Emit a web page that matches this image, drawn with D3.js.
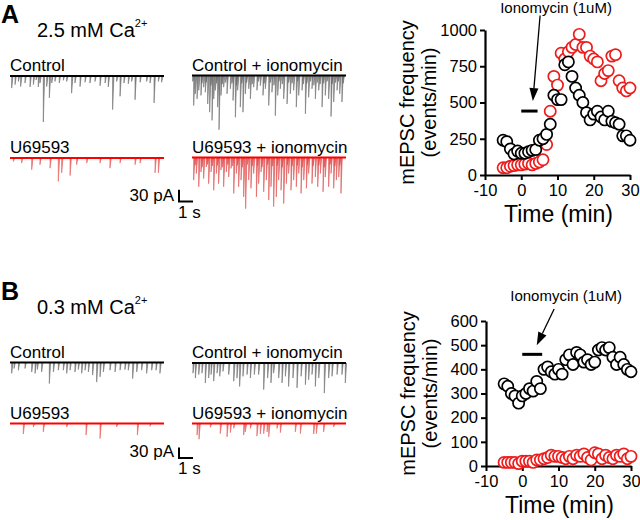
<!DOCTYPE html>
<html><head><meta charset="utf-8">
<script src="https://cdn.jsdelivr.net/npm/d3@7"></script>
<style>body{margin:0;background:#fff}svg{display:block;font-family:"Liberation Sans",Arial,sans-serif}</style>
</head><body><svg id="c" width="640" height="520"></svg>
<script>
// ---------- time-course data (minutes, events/min) ----------
const timeMin = [-5,-4,-3,-2,-1,0,1,2,3,4,5,6,7,8,9,10,11,12,13,14,15,16,17,18,19,20,21,22,23,24,25,26,27,28,29,30];
const freqA_control = [240,230,180,145,165,150,150,160,170,175,240,250,280,350,550,520,520,760,780,680,600,550,500,430,380,420,440,400,380,440,370,360,350,270,270,240];
const freqA_u69593  = [50,50,60,65,70,70,75,80,70,80,90,105,210,440,680,620,840,800,850,880,900,970,880,880,820,800,780,650,700,720,820,830,650,600,580,600];
const freqB_control = [340,330,300,290,260,290,300,320,310,350,320,400,410,390,380,400,380,440,460,420,470,460,430,440,420,430,480,490,480,490,450,420,450,420,400,390];
const freqB_u69593  = [15,15,15,15,10,20,20,20,15,25,25,30,35,45,40,40,35,30,40,30,45,40,50,35,25,55,50,30,45,35,30,45,40,50,30,40];
const xTicks = [-10,0,10,20,30];
const yTicksA = [0,250,500,750,1000];
const yTicksB = [0,100,200,300,400,500,600];
const ionoLabel = "Ionomycin (1uM)";
// annotation anchors in data units [min, events/min]
const barA = [0,4.5,441], arrowA = [[5.2,1100],[3.2,510]], labelA = [9.6,1117];
const barB = [0,5.5,462], arrowB = [[8.8,650],[4.0,500]], labelB = [12.1,683];

// ---------- trace events: [time (s), amplitude (pA)] ----------
const evA_control = [[0.12,31],[0.36,22],[0.6,14],[0.76,27],[1.07,18],[1.43,28],[1.67,22],[1.86,10],[2.02,28],[2.14,18],[2.38,118],[2.62,27],[2.81,56],[2.98,18],[3.21,14],[3.52,18],[3.81,11],[4.05,14],[4.4,44],[4.64,18],[5.0,27],[5.36,16],[5.71,18],[6.07,14],[6.43,25],[6.79,18],[7.02,28],[7.33,86],[7.62,14],[7.86,52],[8.14,18],[8.45,20],[8.69,14],[8.93,61],[9.29,16],[9.76,14],[10.0,18],[10.29,69],[10.6,14],[10.83,16]];
const evA_u69593 = [[0.24,9],[0.83,13],[1.55,30],[2.14,17],[2.86,26],[3.45,60],[3.69,38],[4.29,45],[4.76,17],[5.48,13],[6.43,13],[7.14,26],[7.86,13],[8.93,17],[9.29,13],[10.36,38],[10.6,38]];
const evA_controlIono = [[0.12,77],[0.24,47],[0.36,60],[0.48,38],[0.64,51],[0.83,30],[0.95,43],[1.12,73],[1.26,94],[1.43,115],[1.55,60],[1.67,38],[1.83,81],[1.93,139],[2.07,51],[2.26,30],[2.5,47],[2.74,34],[2.93,64],[3.10,107],[3.26,38],[3.45,81],[3.64,94],[3.81,47],[4.05,34],[4.17,60],[4.40,30],[4.64,38],[4.88,26],[5.07,51],[5.24,34],[5.48,77],[5.71,43],[5.95,103],[6.12,51],[6.31,34],[6.55,60],[6.79,73],[7.02,47],[7.26,38],[7.45,81],[7.62,51],[7.86,38],[8.10,98],[8.33,56],[8.57,34],[8.81,60],[9.05,38],[9.29,81],[9.52,51],[9.76,60],[9.93,105],[10.12,68],[10.36,38],[10.55,47],[10.71,68],
  [0.05,15],[0.7,20],[1.0,18],[1.35,25],[1.75,20],[2.15,22],[2.4,18],[2.85,20],[3.18,25],[3.55,20],[3.9,18],[4.3,22],[4.75,15],[5.15,20],[5.6,18],[5.85,25],[6.2,15],[6.45,22],[6.9,18],[7.15,20],[7.55,15],[7.95,22],[8.2,20],[8.45,15],[8.7,25],[8.95,18],[9.15,22],[9.4,20],[9.65,15],[10.0,22],[10.25,18],[10.45,15],[10.8,20]];
const evA_u69593Iono = [[0.12,58],[0.31,41],[0.48,75],[0.64,37],[0.83,54],[1.02,24],[1.19,67],[1.36,37],[1.55,84],[1.74,41],[1.90,67],[2.07,32],[2.26,75],[2.45,37],[2.62,50],[2.79,28],[2.98,92],[3.17,41],[3.33,75],[3.50,58],[3.69,101],[3.83,131],[4.05,58],[4.21,79],[4.40,41],[4.60,101],[4.76,67],[4.93,37],[5.12,88],[5.31,58],[5.48,109],[5.64,75],[5.83,126],[6.02,101],[6.19,58],[6.36,84],[6.55,118],[6.74,67],[6.90,41],[7.07,84],[7.26,58],[7.45,75],[7.62,41],[7.79,92],[7.98,58],[8.17,79],[8.33,41],[8.57,67],[8.81,50],[8.98,75],[9.17,41],[9.36,88],[9.52,50],[9.76,75],[9.93,41],[10.12,79],[10.31,58],[10.48,50],[10.64,92],
  [0.22,20],[0.72,25],[1.1,18],[1.45,22],[1.82,20],[2.18,25],[2.55,18],[2.9,22],[3.25,20],[3.6,25],[3.95,18],[4.3,22],[4.68,20],[5.0,25],[5.4,18],[5.75,22],[6.1,20],[6.45,25],[6.82,18],[7.15,22],[7.52,20],[7.88,25],[8.25,18],[8.65,22],[9.05,20],[9.45,25],[9.85,18],[10.2,22],[10.55,20]];
const evB_control = [[0.12,31],[0.29,17],[0.6,22],[1.07,17],[1.55,27],[1.79,31],[1.95,20],[2.26,27],[2.81,60],[3.10,27],[3.45,22],[3.81,22],[4.05,31],[4.29,22],[4.64,27],[4.88,20],[5.12,31],[5.36,22],[5.6,27],[5.9,36],[6.19,56],[6.43,41],[6.67,27],[7.14,22],[7.5,27],[7.86,22],[8.21,20],[8.45,22],[8.76,46],[9.05,27],[9.40,22],[9.76,31],[10.12,22],[10.43,22],[10.71,31]];
const evB_u69593 = [[0.95,30],[1.67,10],[2.38,24],[4.05,10],[5.43,33],[6.43,43],[7.62,10],[9.10,33],[10.0,8]];
const evB_controlIono = [[0.07,29],[0.24,43],[0.48,33],[0.71,29],[0.95,57],[1.19,43],[1.36,33],[1.55,52],[1.79,29],[1.98,38],[2.21,24],[2.62,33],[2.98,52],[3.21,43],[3.40,67],[3.64,38],[3.93,33],[4.17,43],[4.45,33],[4.76,33],[5.12,76],[5.40,43],[5.64,57],[5.83,29],[6.19,43],[6.43,57],[6.67,38],[6.90,67],[7.21,43],[7.5,71],[7.79,38],[8.10,62],[8.33,48],[8.57,33],[8.81,67],[9.05,43],[9.45,86],[9.76,43],[10.0,38],[10.36,33],[10.71,33],[10.95,57]];
const evB_u69593Iono = [[0.36,33],[0.5,45],[1.31,11],[2.02,29],[2.5,38],[2.74,26],[2.98,14],[3.69,33],[3.81,24],[4.17,14],[4.64,36],[4.88,30],[5.12,29],[5.36,24],[5.48,38],[6.07,14],[6.31,26],[7.38,24],[7.74,29],[8.69,30],[8.88,29],[9.40,24],[10.12,10]];
const scaleBarPA = 30, scaleBarS = 1, traceSeconds = 11;

// ---------- drawing ----------
const svg = d3.select("#c");
const FONT = '"Liberation Sans",Arial,sans-serif';

function txt(g, x, y, s, size, opts={}) {
  return g.append("text").attr("x", x).attr("y", y).attr("font-size", size)
    .attr("font-weight", opts.bold ? "bold" : null)
    .attr("text-anchor", opts.anchor || "start").attr("fill", "#000").text(s);
}
function heading(y, letter, conc) {
  txt(svg, 1, y - 14, letter, 25, {bold:true});
  const t = svg.append("text").attr("x", 37).attr("y", y).attr("font-size", 20);
  t.append("tspan").text(conc + " mM Ca");
  t.append("tspan").attr("font-size", 11).attr("dy", -10).text("2+");
}
function trace(x0, base, events, kY, color, evColor, label) {
  const xs = d3.scaleLinear().domain([0, traceSeconds]).range([x0, x0 + 154]);
  const ys = d3.scaleLinear().domain([0, 30]).range([base, base + kY]);
  const g = svg.append("g");
  g.selectAll("path.ev").data(events).join("path").attr("class","ev")
    .attr("d", d => `M${xs(d[0])},${ys(0)}L${xs(d[0])},${ys(d[1])}L${xs(d[0])+1.3},${ys(0)}`)
    .attr("fill", evColor).attr("stroke", evColor).attr("stroke-width", 0.7).attr("opacity", 0.85);
  g.append("line").attr("x1", xs(0)).attr("x2", xs(traceSeconds)).attr("y1", base).attr("y2", base)
    .attr("stroke", color).attr("stroke-width", 2.2);
  txt(svg, x0, base - 5, label, 17);
  return {xs, ys};
}
function scaleBar(x, y, kY) {
  const xs = d3.scaleLinear().domain([0, 1]).range([x, x + 14]);
  const ys = d3.scaleLinear().domain([0, 30]).range([y, y - kY]);
  svg.append("path").attr("d", `M${xs(0)},${ys(scaleBarPA)}L${xs(0)},${ys(0)}L${xs(scaleBarS)},${ys(0)}`)
    .attr("fill","none").attr("stroke","#000").attr("stroke-width",2);
  txt(svg, x - 5, y - 1, "30 pA", 17, {anchor:"end"});
  txt(svg, x - 1, y + 16, "1 s", 17);
}
function plot(cfg) {
  const x = d3.scaleLinear().domain([-10, 30]).range([cfg.x0, cfg.x1]);
  const y = d3.scaleLinear().domain([0, cfg.ymax]).range([cfg.yb, cfg.yt]);
  const g = svg.append("g");
  const ax = g.append("g").attr("transform", `translate(${cfg.x0},0)`)
    .call(d3.axisLeft(y).tickValues(cfg.yticks).tickSize(5).tickSizeOuter(0).tickPadding(3).tickFormat(d => String(d)));
  const bx = g.append("g").attr("transform", `translate(0,${cfg.yb})`)
    .call(d3.axisBottom(x).tickValues(xTicks).tickSize(5).tickSizeOuter(0).tickPadding(4).tickFormat(d => String(d)));
  [ax, bx].forEach(a => {
    a.select(".domain").attr("stroke-width", 2.2).attr("stroke", "#000");
    a.selectAll(".tick line").attr("stroke-width", 2).attr("stroke", "#000");
    a.selectAll(".tick text").attr("font-size", 16.5).attr("font-family", FONT).attr("fill", "#000");
  });
  txt(g, (cfg.x0 + cfg.x1) / 2 + 1, cfg.yb + 47, "Time (min)", 23, {anchor:"middle"});
  const cy = (cfg.yb + cfg.yt) / 2;
  g.append("text").attr("transform", `translate(${cfg.x0 - 71},${cy}) rotate(-90)`).attr("text-anchor","middle")
    .attr("font-size", 20).text("mEPSC frequency");
  g.append("text").attr("transform", `translate(${cfg.x0 - 49},${cy}) rotate(-90)`).attr("text-anchor","middle")
    .attr("font-size", 20).text("(events/min)");
  // annotation
  g.append("line").attr("x1", x(cfg.bar[0])).attr("x2", x(cfg.bar[1])).attr("y1", y(cfg.bar[2])).attr("y2", y(cfg.bar[2]))
    .attr("stroke", "#000").attr("stroke-width", 3);
  const [p0, p1] = cfg.arrow.map(p => [x(p[0]), y(p[1])]);
  const ang = Math.atan2(p1[1] - p0[1], p1[0] - p0[0]);
  const hl = 13, hw = 4.5;
  const bxp = p1[0] - hl * Math.cos(ang), byp = p1[1] - hl * Math.sin(ang);
  g.append("line").attr("x1", p0[0]).attr("y1", p0[1]).attr("x2", bxp).attr("y2", byp).attr("stroke", "#000").attr("stroke-width", 1.3);
  g.append("path").attr("d", `M${p1[0]},${p1[1]}L${bxp + hw*Math.sin(ang)},${byp - hw*Math.cos(ang)}L${bxp - hw*Math.sin(ang)},${byp + hw*Math.cos(ang)}Z`).attr("fill", "#000");
  txt(g, x(cfg.label[0]), y(cfg.label[1]), ionoLabel, 15, {anchor:"middle"});
  // data
  const series = [[cfg.red, "#ee1c1c"], [cfg.black, "#000"]];
  series.forEach(([vals, col]) => {
    g.append("g").selectAll("circle").data(timeMin.map((t, i) => [t, vals[i]])).join("circle")
      .attr("cx", d => x(d[0])).attr("cy", d => y(d[1])).attr("r", 5.6)
      .attr("fill", "#fff").attr("stroke", col).attr("stroke-width", 1.7);
  });
}

// Panel A
heading(37, "A", "2.5");
trace(10, 76, evA_control, 11.7, "#000", "#666", "Control");
trace(192, 75.5, evA_controlIono, 11.7, "#000", "#666", "Control + ionomycin");
trace(10, 158, evA_u69593, 11.7, "#ff0000", "#e25555", "U69593");
trace(192, 157.5, evA_u69593Iono, 11.7, "#ff0000", "#e04848", "U69593 + ionomycin");
scaleBar(179, 201.5, 11.7);
plot({x0:485, x1:630, yb:175, yt:30, ymax:1000, yticks:yTicksA, black:freqA_control, red:freqA_u69593,
      bar:barA, arrow:arrowA, label:labelA});

// Panel B
heading(314, "B", "0.3");
trace(10, 362.5, evB_control, 10.5, "#000", "#666", "Control");
trace(192, 363, evB_controlIono, 10.5, "#000", "#666", "Control + ionomycin");
trace(10, 423.5, evB_u69593, 10.5, "#ff0000", "#e25555", "U69593");
trace(192, 423.5, evB_u69593Iono, 10.5, "#ff0000", "#e25555", "U69593 + ionomycin");
scaleBar(179, 458, 10.5);
plot({x0:486, x1:631, yb:466, yt:321, ymax:600, yticks:yTicksB, black:freqB_control, red:freqB_u69593,
      bar:barB, arrow:arrowB, label:labelB});
</script></body></html>
